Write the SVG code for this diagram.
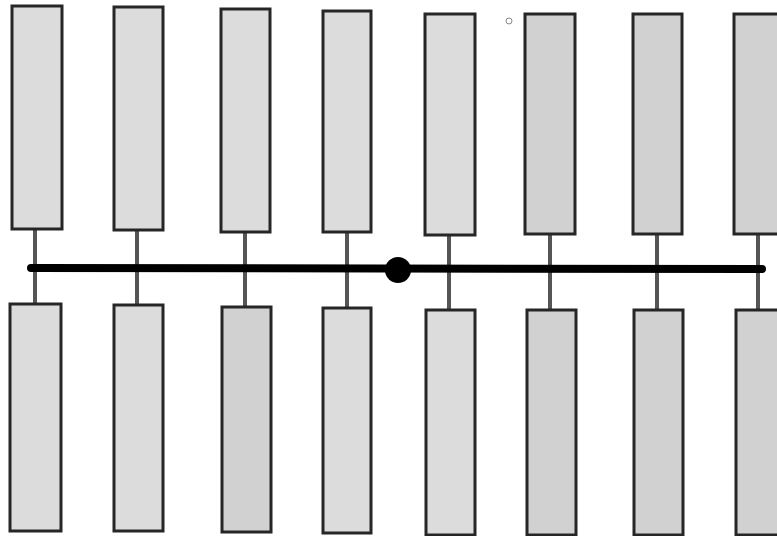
<svg xmlns="http://www.w3.org/2000/svg" width="777" height="536" viewBox="0 0 777 536">
  <style>
    .bar { stroke: #262626; stroke-width: 3; }
    .light { fill: #dcdcdc; }
    .flat { fill: #d1d1d1; }
    .stem { stroke: #555; stroke-width: 4; }
    .bus { stroke: #000; stroke-width: 8; stroke-linecap: round; }
  </style>
  <rect width="777" height="536" fill="#fff"/>

  <!-- drops from each panel to the bus -->
  <g id="connectors">
    <line class="stem" x1="35" y1="229" x2="35" y2="303"/>
    <line class="stem" x1="137" y1="230" x2="137" y2="304"/>
    <line class="stem" x1="245" y1="232" x2="245" y2="306"/>
    <line class="stem" x1="347" y1="232" x2="347" y2="307"/>
    <line class="stem" x1="449" y1="235" x2="449" y2="309"/>
    <line class="stem" x1="550" y1="234" x2="550" y2="309"/>
    <line class="stem" x1="657" y1="234" x2="657" y2="309"/>
    <line class="stem" x1="758" y1="234" x2="758" y2="309"/>
    <line class="bus" x1="31" y1="268" x2="762" y2="269"/>
  </g>

  <g id="junction"><circle cx="398" cy="270" r="13" fill="#000"/></g>
  <g id="marker-small"><circle cx="509" cy="21" r="3" fill="none" stroke="#888" stroke-width="1"/></g>

  <!-- upper row of panels -->
  <g id="top-1"><rect class="bar light" x="12" y="6" width="50" height="223"/></g>
  <g id="top-2"><rect class="bar light" x="114" y="7" width="49" height="223"/></g>
  <g id="top-3"><rect class="bar light" x="221" y="9" width="49" height="223"/></g>
  <g id="top-4"><rect class="bar light" x="323" y="11" width="48" height="221"/></g>
  <g id="top-5"><rect class="bar light" x="425" y="14" width="50" height="221"/></g>
  <g id="top-6"><rect class="bar flat" x="525" y="14" width="50" height="220"/></g>
  <g id="top-7"><rect class="bar flat" x="633" y="14" width="49" height="220"/></g>
  <g id="top-8"><rect class="bar flat" x="734" y="14" width="50" height="220"/></g>

  <!-- lower row of panels -->
  <g id="bottom-1"><rect class="bar light" x="10" y="304" width="51" height="227"/></g>
  <g id="bottom-2"><rect class="bar light" x="114" y="305" width="49" height="226"/></g>
  <g id="bottom-3"><rect class="bar flat" x="222" y="307" width="49" height="225"/></g>
  <g id="bottom-4"><rect class="bar light" x="323" y="308" width="48" height="225"/></g>
  <g id="bottom-5"><rect class="bar light" x="426" y="310" width="49" height="225"/></g>
  <g id="bottom-6"><rect class="bar flat" x="527" y="310" width="49" height="225"/></g>
  <g id="bottom-7"><rect class="bar flat" x="634" y="310" width="49" height="225"/></g>
  <g id="bottom-8"><rect class="bar flat" x="736" y="310" width="50" height="225"/></g>
</svg>
